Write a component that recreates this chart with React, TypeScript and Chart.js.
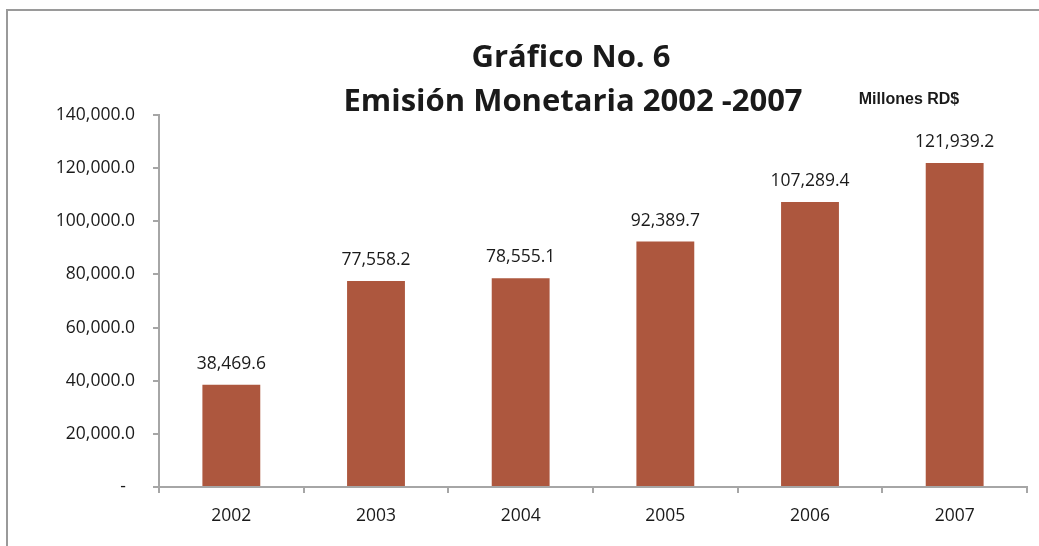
import React, { useEffect, useRef } from "react";
import { Chart, registerables } from "chart.js";

Chart.register(...registerables);

const categories = ["2002", "2003", "2004", "2005", "2006", "2007"];
const emision = [38469.6, 77558.2, 78555.1, 92389.7, 107289.4, 121939.2];
const titleLines = ["Gráfico No. 6", "Emisión Monetaria 2002 -2007"];
const unitLabel = "Millones RD$";

const fmt = (v: number) =>
  v.toLocaleString("en-US", { minimumFractionDigits: 1, maximumFractionDigits: 1 });

export default function App() {
  const ref = useRef<HTMLCanvasElement | null>(null);

  useEffect(() => {
    if (!ref.current) return;
    const textPlugin = {
      id: "texts",
      afterDatasetsDraw(chart: any) {
        const ctx = chart.ctx;
        ctx.save();
        ctx.fillStyle = "#1a1a1a";
        ctx.textAlign = "center";
        ctx.textBaseline = "alphabetic";
        ctx.font = "bold 31px 'Open Sans'";
        ctx.fillText(titleLines[0], 571, 67);
        ctx.fillText(titleLines[1], 573, 111);
        ctx.font = "bold 16px 'Liberation Sans'";
        ctx.fillText(unitLabel, 909, 104);
        ctx.font = "17.5px 'Open Sans'";
        const meta = chart.getDatasetMeta(0);
        meta.data.forEach((bar: any, i: number) => {
          ctx.fillText(fmt(emision[i]), bar.x, bar.y - 16);
        });
        ctx.restore();
      },
    };
    const chart = new Chart(ref.current, {
      type: "bar",
      data: {
        labels: categories,
        datasets: [
          {
            data: emision,
            backgroundColor: "#ad573e",
            barPercentage: 0.4,
            categoryPercentage: 1,
          },
        ],
      },
      options: {
        animation: false,
        responsive: false,
        maintainAspectRatio: false,
        layout: { padding: { left: 0, top: 115, right: 12, bottom: 0 } },
        plugins: { legend: { display: false }, tooltip: { enabled: false }, title: { display: false } },
        scales: {
          x: {
            offset: true,
            grid: {
              offset: true,
              drawOnChartArea: false,
              drawTicks: true,
              tickLength: 6,
              color: "#a6a6a6",
              lineWidth: 2,
            },
            border: { color: "#a6a6a6", width: 2 },
            ticks: { color: "#1a1a1a", font: { family: "'Open Sans'", size: 17.5 }, padding: 13 },
            afterFit: (s: any) => {
              s.height = 59;
            },
          },
          y: {
            min: 0,
            max: 140000,
            grid: {
              drawOnChartArea: false,
              drawTicks: true,
              tickLength: 6,
              color: "#a6a6a6",
              lineWidth: 2,
            },
            border: { color: "#a6a6a6", width: 2 },
            ticks: {
              stepSize: 20000,
              color: "#1a1a1a",
              font: { family: "'Open Sans'", size: 17.5 },
              padding: 18,
              callback: (v: any) => (Number(v) === 0 ? "-  " : fmt(Number(v))),
            },
            afterFit: (s: any) => {
              s.width = 159;
            },
          },
        },
      },
      plugins: [textPlugin],
    });
    return () => chart.destroy();
  }, []);

  return (
    <div style={{ position: "fixed", left: 0, top: 0, width: 1039, height: 546, background: "#fff" }}>
      <div
        style={{
          position: "absolute",
          left: 6,
          top: 9,
          width: 1040,
          height: 540,
          borderLeft: "2px solid #9a9a9a",
          borderTop: "2px solid #9a9a9a",
        }}
      />
      <canvas
        ref={ref}
        width={1039}
        height={546}
        style={{ position: "absolute", left: 0, top: 0, width: 1039, height: 546 }}
      />
    </div>
  );
}
